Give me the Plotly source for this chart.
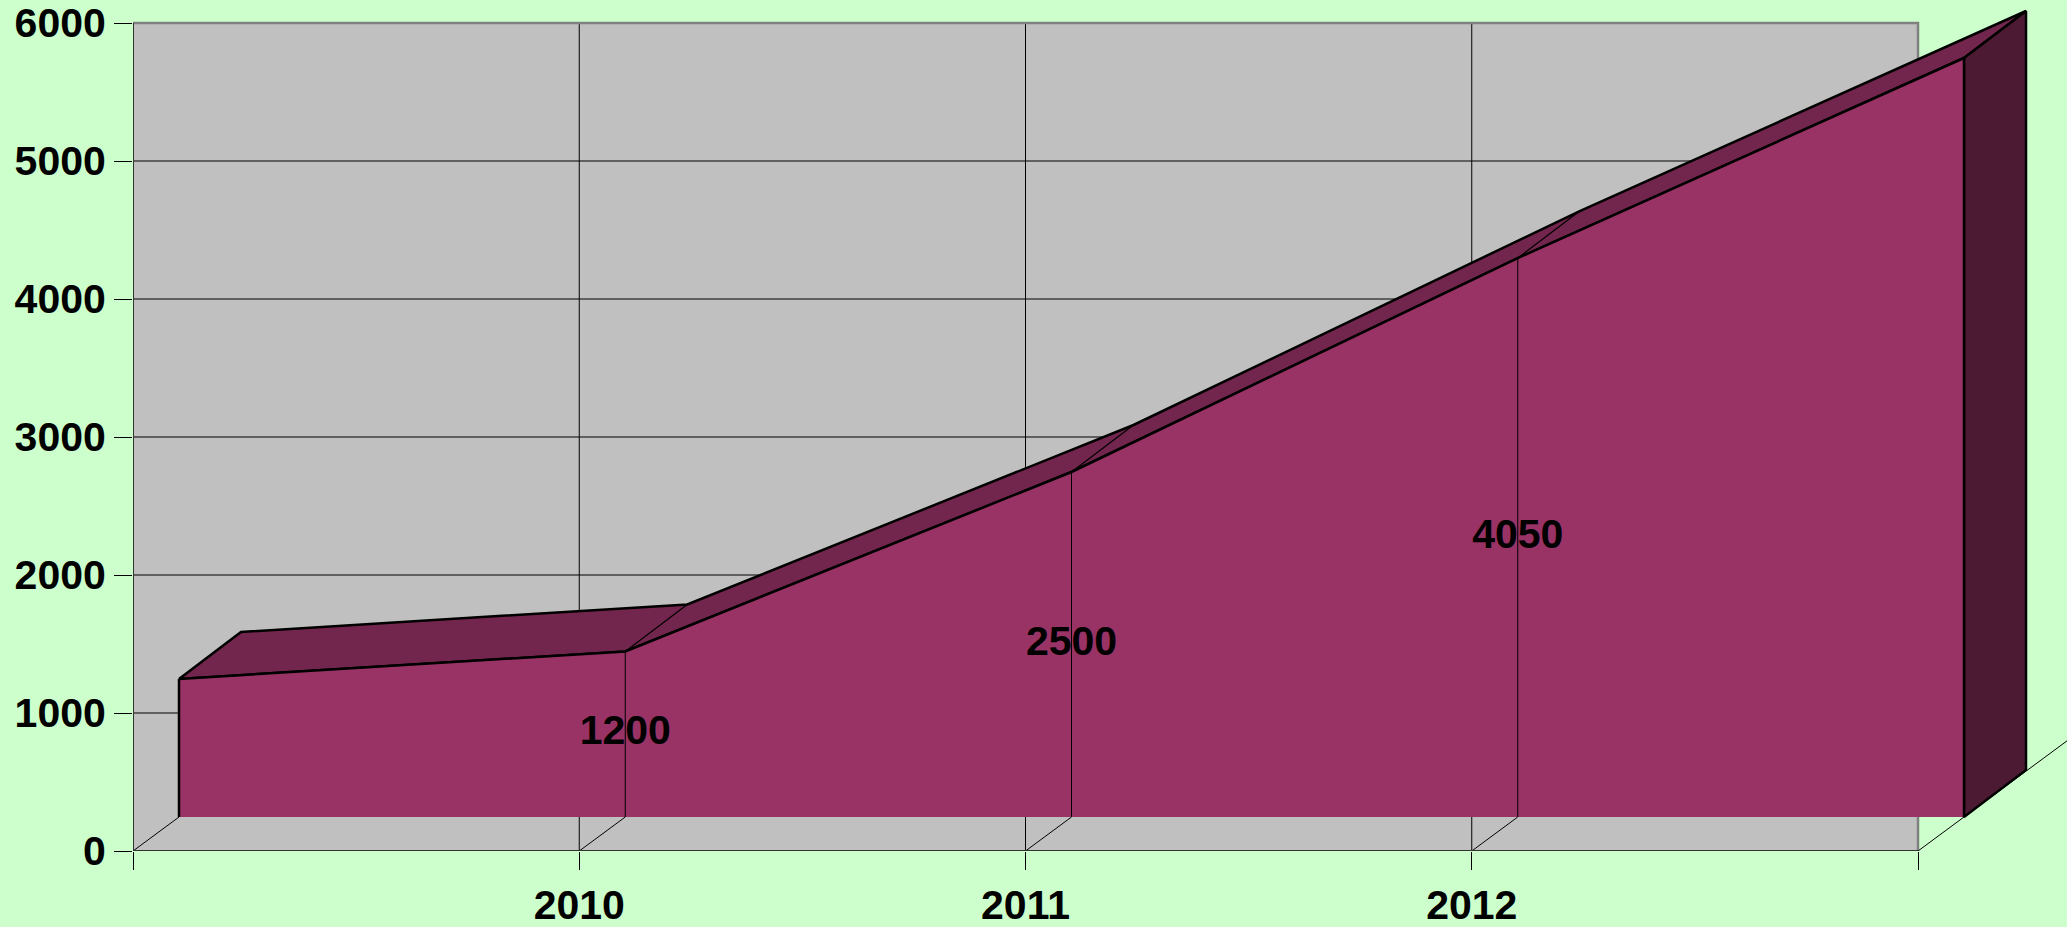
import plotly.graph_objects as go

# ---- data ----
categories = ["", "2010", "2011", "2012", ""]
values = [1000, 1200, 2500, 4050, 5500]
y_ticks = [0, 1000, 2000, 3000, 4000, 5000, 6000]
y_max = 6000

# ---- geometry / style constants ----
W, H = 2067, 927
ML, MB = 133, 76
PX_PER_CAT = 446.25
PX_PER_UNIT = 0.138
FRONT_DX = 46 / PX_PER_CAT
FRONT_DY = 34 / PX_PER_UNIT
BACK_DX = 108 / PX_PER_CAT
BACK_DY = 81 / PX_PER_UNIT

BG = "#CCFFCC"
WALL = "#C0C0C0"
FRONT = "#993366"
TOP = "#73264D"
SIDE = "#4D1A33"
FONT = "Liberation Sans"
FSIZE = 41

n = len(values)
xs = list(range(n))
x_end = n - 1

fig = go.Figure()

def line(x, y, color="black", width=1, fill=None, fillcolor=None):
    fig.add_trace(go.Scatter(
        x=x, y=y, mode="lines",
        line=dict(color=color, width=width),
        fill=fill, fillcolor=fillcolor,
        hoverinfo="skip", showlegend=False,
    ))

# wall
line([0, x_end, x_end, 0, 0], [0, 0, y_max, y_max, 0], color=WALL, width=0,
     fill="toself", fillcolor=WALL)
# horizontal gridlines
for t in y_ticks[1:-1]:
    line([0, x_end], [t, t], color="black", width=1)
# vertical gridlines
for i in xs[1:-1]:
    line([i, i], [0, y_max], color="black", width=1)
# wall border (top/right)
line([0, x_end, x_end], [y_max, y_max, 0], color="#808080", width=2.5)

# floor depth lines
for i in xs[:-1]:
    line([i, i + FRONT_DX], [0, FRONT_DY], color="black", width=1)
line([x_end, x_end + 4 * FRONT_DX], [0, 4 * FRONT_DY], color="black", width=1)

# axis lines
line([0, 0], [y_max, 0], color="#333333", width=2)
line([0, x_end], [0, 0], color="#333333", width=2)

# area geometry
fx = [i + FRONT_DX for i in xs]
fy = [v + FRONT_DY for v in values]
bx = [i + BACK_DX for i in xs]
by = [v + BACK_DY for v in values]

# top face
line(fx + bx[::-1] + [fx[0]], fy + by[::-1] + [fy[0]], color="black", width=2.5,
     fill="toself", fillcolor=TOP)
# right side face
line([fx[-1], bx[-1], bx[-1], fx[-1], fx[-1]],
     [fy[-1], by[-1], BACK_DY, FRONT_DY, fy[-1]],
     color="black", width=2.5, fill="toself", fillcolor=SIDE)
# front face fill
line([fx[0]] + fx + [fx[-1], fx[0]], [FRONT_DY] + fy + [FRONT_DY, FRONT_DY],
     color=FRONT, width=0, fill="toself", fillcolor=FRONT)
# joints on top face
for i in xs[1:-1]:
    line([fx[i], bx[i]], [fy[i], by[i]], color="black", width=1.2)
# vertical lines on the front face
for i in xs[1:-1]:
    line([fx[i], fx[i]], [FRONT_DY, fy[i]], color="black", width=1)
# front outline: left, top, right
line([fx[0], fx[0]], [FRONT_DY, fy[0]], color="black", width=2.5)
line(fx, fy, color="black", width=2.5)
line([fx[-1], fx[-1]], [fy[-1], FRONT_DY], color="black", width=2.5)

# data labels
lx = [fx[i] for i in xs if categories[i]]
ly = [values[i] / 2 + FRONT_DY for i in xs if categories[i]]
lt = [str(values[i]) for i in xs if categories[i]]
fig.add_trace(go.Scatter(
    x=lx, y=ly, mode="text", text=lt, textposition="middle center",
    textfont=dict(family=FONT, size=FSIZE, color="black", weight="bold"),
    hoverinfo="skip", showlegend=False,
))

plot_h = H - MB
fig.update_layout(
    width=W, height=H, autosize=False,
    margin=dict(l=ML, r=0, t=0, b=MB, pad=0, autoexpand=False),
    paper_bgcolor=BG, plot_bgcolor=BG,
    xaxis=dict(
        range=[0, (W - ML) / PX_PER_CAT], tickmode="array",
        tickvals=xs, ticktext=categories, automargin=False,
        showgrid=False, zeroline=False, showline=False,
        ticks="outside", ticklen=18, tickwidth=1, tickcolor="black",
        ticklabelstandoff=0,
        tickfont=dict(family=FONT, size=FSIZE, color="black", weight="bold"),
        fixedrange=True,
    ),
    yaxis=dict(
        range=[0, plot_h / PX_PER_UNIT], tickmode="array",
        tickvals=y_ticks, ticktext=[str(t) for t in y_ticks], automargin=False,
        showgrid=False, zeroline=False, showline=False,
        ticks="outside", ticklen=18, tickwidth=1, tickcolor="black",
        tickfont=dict(family=FONT, size=FSIZE, color="black", weight="bold"),
        fixedrange=True,
    ),
)

fig.write_html(
    "out.html",
    config={"displayModeBar": False},
    post_script="document.body.style.margin='0';document.body.style.overflow='hidden';document.body.style.background='" + BG + "';",
)
